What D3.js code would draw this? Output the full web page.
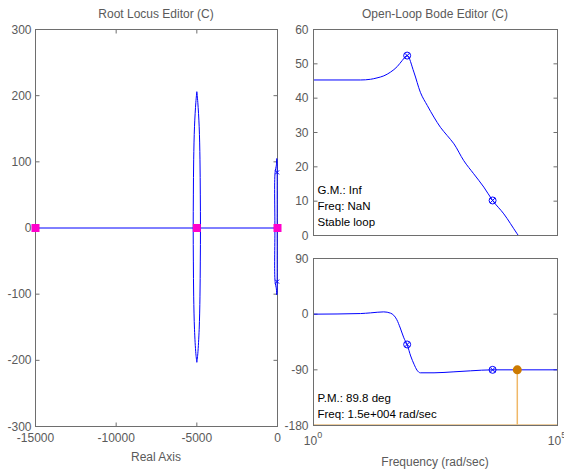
<!DOCTYPE html>
<html lang="en"><head>
<meta charset="utf-8">
<title>SISO Design</title>
<script src="https://cdnjs.cloudflare.com/ajax/libs/d3/7.8.5/d3.min.js"></script>
<style>
  body{margin:0;background:#fff;}
  svg{display:block;font-family:"Liberation Sans",Arial,sans-serif;}
  .frame{fill:none;stroke:#6e6e6e;stroke-width:1;}
  .tick{stroke:#6e6e6e;stroke-width:1;}
  .ticklabel{fill:#5a5a5a;font-size:12px;}
  .title{fill:#5a5a5a;font-size:12px;}
  .note{fill:#000;font-size:11.5px;}
  .curve{fill:none;stroke:#0000ff;stroke-width:1;}
</style>
</head>
<body>
<svg id="chart" width="564" height="473"></svg>
<script>
// ---- root locus data ----
var rlXTicks = [-15000, -10000, -5000, 0]
var rlYTicks = [-300, -200, -100, 0, 100, 200, 300]
// closed-loop poles (magenta squares) on the real axis
var clPoles = [[-15000, 0], [-5000, 0], [0, 0]]
// open-loop poles near the origin (blue x)
var olPoles = [[-25, 84], [-25, -81]]
// branches [re, im]
var brReal = [[-15000, 0], [0, 0]]
var brLoopL = [[-5000, 206], [-5060, 190], [-5145, 153], [-5195, 103], [-5215, 50], [-5225, 0],
               [-5215, -50], [-5195, -103], [-5145, -153], [-5060, -190], [-5000, -203]]
var brLoopR = [[-5000, 206], [-4940, 190], [-4855, 153], [-4805, 103], [-4785, 50], [-4775, 0],
               [-4785, -50], [-4805, -103], [-4855, -153], [-4940, -190], [-5000, -203]]
var brZeroA = [[-20, 0], [-20, 84], [-25, 100], [-45, 105], [-70, 95], [-150, 84], [-160, 0],
               [-150, -81], [-70, -92], [-45, -101], [-25, -97], [-20, -81], [-20, 0]]

// ---- bode data ----
var magTicks = [0, 10, 20, 30, 40, 50, 60]
var phaseTicks = [-180, -90, 0, 90]
var magFreq = [1, 9.2, 14.7, 20, 27.6, 38, 52, 66, 83, 114, 155, 214, 293, 400, 550, 755, 1200, 1910, 3090, 4680, 7940, 14900, 31600]
var magDb   = [45.3, 45.3, 45.5, 45.9, 46.5, 47.6, 49.2, 51, 52.4, 47.6, 41.7, 37.9, 34.5, 31.5, 29.1, 26.7, 21.8, 18, 14.1, 10.2, 6.3, 0.5, -6]
var phFreq = [1, 9.2, 14.8, 27.5, 38, 51, 60, 71, 83.5, 98, 115, 132, 155, 295, 755, 1660, 4680, 100000]
var phDeg  = [0, 1, 2.1, 3.7, 1.6, -9, -22.4, -38.3, -50, -67.6, -81, -90.5, -94.8, -94.8, -93.2, -91.6, -90, -90]
// compensator markers (circled x)
var compFreq = [83, 4680]
var compMag = [52.4, 10.2]
var compPhase = [-49, -90]
// crossover
var pmFreq = 15000
var pmPhase = -90
var gmText = ["G.M.: Inf", "Freq: NaN", "Stable loop"]
var pmText = ["P.M.: 89.8 deg", "Freq: 1.5e+004 rad/sec"]

var svg = d3.select("#chart")

function frame(g, w, h) {
  g.append("rect").attr("class", "frame").attr("x", 0).attr("y", 0).attr("width", w).attr("height", h)
}

// ================= Root locus =================
var rl = {x: 35, y: 29, w: 242, h: 397}
var rx = d3.scaleLinear().domain([-15000, 0]).range([0, rl.w])
var ry = d3.scaleLinear().domain([-300, 300]).range([rl.h, 0])
var g1 = svg.append("g").attr("transform", "translate(" + (rl.x + 0.5) + "," + (rl.y + 0.5) + ")")

svg.append("text").attr("class", "title").attr("x", rl.x + rl.w / 2).attr("y", 18)
  .attr("text-anchor", "middle").text("Root Locus Editor (C)")
svg.append("text").attr("class", "title").attr("x", rl.x + rl.w / 2).attr("y", 461)
  .attr("text-anchor", "middle").text("Real Axis")

rlXTicks.forEach(function(t) {
  g1.append("line").attr("class", "tick").attr("x1", rx(t)).attr("x2", rx(t)).attr("y1", rl.h).attr("y2", rl.h - 4)
  g1.append("line").attr("class", "tick").attr("x1", rx(t)).attr("x2", rx(t)).attr("y1", 0).attr("y2", 4)
  g1.append("text").attr("class", "ticklabel").attr("x", rx(t)).attr("y", rl.h + 15)
    .attr("text-anchor", "middle").text(t)
})
rlYTicks.forEach(function(t) {
  g1.append("line").attr("class", "tick").attr("x1", 0).attr("x2", 4).attr("y1", ry(t)).attr("y2", ry(t))
  g1.append("line").attr("class", "tick").attr("x1", rl.w).attr("x2", rl.w - 4).attr("y1", ry(t)).attr("y2", ry(t))
  g1.append("text").attr("class", "ticklabel").attr("x", -4).attr("y", ry(t) + 4)
    .attr("text-anchor", "end").text(t)
})
frame(g1, rl.w, rl.h)

var rline = d3.line().x(function(d) { return rx(d[0]) }).y(function(d) { return ry(d[1]) }).curve(d3.curveCatmullRom)
;[brReal, brLoopL, brLoopR, brZeroA].forEach(function(b) {
  g1.append("path").attr("class", "curve").attr("d", rline(b))
})
olPoles.forEach(function(p) {
  var cx = rx(p[0]), cy = ry(p[1])
  g1.append("path").attr("stroke", "#0000ff").attr("stroke-width", 1)
    .attr("d", "M" + (cx - 2) + "," + (cy - 2) + "L" + (cx + 2) + "," + (cy + 2) + "M" + (cx - 2) + "," + (cy + 2) + "L" + (cx + 2) + "," + (cy - 2))
})
g1.selectAll(".clpole").data(clPoles).enter().append("rect")
  .attr("x", function(d) { return rx(d[0]) - 4 }).attr("y", function(d) { return ry(d[1]) - 4 })
  .attr("width", 8).attr("height", 8).attr("fill", "#ff00cc")

// ================= Bode =================
var bx = d3.scaleLog().domain([1, 1e5]).range([0, 244])
var mg = {x: 313, y: 29, w: 244, h: 206}
var ph = {x: 313, y: 258, w: 244, h: 167}
var my = d3.scaleLinear().domain([0, 60]).range([mg.h, 0])
var py = d3.scaleLinear().domain([-180, 90]).range([ph.h, 0])

svg.append("text").attr("class", "title").attr("x", mg.x + mg.w / 2).attr("y", 18)
  .attr("text-anchor", "middle").text("Open-Loop Bode Editor (C)")
svg.append("text").attr("class", "title").attr("x", ph.x + ph.w / 2).attr("y", 466)
  .attr("text-anchor", "middle").text("Frequency (rad/sec)")

var defs = svg.append("defs")
defs.append("clipPath").attr("id", "clipMag").append("rect").attr("width", mg.w).attr("height", mg.h)
defs.append("clipPath").attr("id", "clipPh").append("rect").attr("width", ph.w).attr("height", ph.h)

function circX(g, cx, cy) {
  g.append("circle").attr("cx", cx).attr("cy", cy).attr("r", 3.5).attr("fill", "none").attr("stroke", "#0000ff")
  g.append("path").attr("stroke", "#0000ff")
    .attr("d", "M" + (cx - 2.5) + "," + (cy - 2.5) + "L" + (cx + 2.5) + "," + (cy + 2.5) + "M" + (cx - 2.5) + "," + (cy + 2.5) + "L" + (cx + 2.5) + "," + (cy - 2.5))
}

// magnitude
var g2 = svg.append("g").attr("transform", "translate(" + (mg.x + 0.5) + "," + (mg.y + 0.5) + ")")
magTicks.forEach(function(t) {
  g2.append("line").attr("class", "tick").attr("x1", 0).attr("x2", 4).attr("y1", my(t)).attr("y2", my(t))
  g2.append("line").attr("class", "tick").attr("x1", mg.w).attr("x2", mg.w - 4).attr("y1", my(t)).attr("y2", my(t))
  g2.append("text").attr("class", "ticklabel").attr("x", -5).attr("y", my(t) + 4)
    .attr("text-anchor", "end").text(t)
})
var magPts = magFreq.map(function(f, i) { return [f, magDb[i]] })
g2.append("path").attr("class", "curve").attr("clip-path", "url(#clipMag)")
  .attr("d", d3.line().x(function(d) { return bx(d[0]) }).y(function(d) { return my(d[1]) }).curve(d3.curveMonotoneX)(magPts))
compFreq.forEach(function(f, i) { circX(g2, bx(f), my(compMag[i])) })
gmText.forEach(function(s, i) {
  g2.append("text").attr("class", "note").attr("x", 4).attr("y", 164 + i * 16).text(s)
})
frame(g2, mg.w, mg.h)

// phase
var g3 = svg.append("g").attr("transform", "translate(" + (ph.x + 0.5) + "," + (ph.y + 0.5) + ")")
phaseTicks.forEach(function(t) {
  g3.append("line").attr("class", "tick").attr("x1", 0).attr("x2", 4).attr("y1", py(t)).attr("y2", py(t))
  g3.append("line").attr("class", "tick").attr("x1", ph.w).attr("x2", ph.w - 4).attr("y1", py(t)).attr("y2", py(t))
  g3.append("text").attr("class", "ticklabel").attr("x", -5).attr("y", py(t) + 4)
    .attr("text-anchor", "end").text(t)
})
var phPts = phFreq.map(function(f, i) { return [f, phDeg[i]] })
g3.append("path").attr("class", "curve").attr("clip-path", "url(#clipPh)")
  .attr("d", d3.line().x(function(d) { return bx(d[0]) }).y(function(d) { return py(d[1]) }).curve(d3.curveMonotoneX)(phPts))
// -180 line and crossover stem
g3.append("line").attr("x1", 0).attr("x2", ph.w).attr("y1", py(-180) - 1).attr("y2", py(-180) - 1)
  .attr("stroke", "#d89a40").attr("stroke-width", 1).attr("stroke-dasharray", "1,1")
g3.append("line").attr("x1", bx(pmFreq)).attr("x2", bx(pmFreq)).attr("y1", py(pmPhase)).attr("y2", py(-180) - 1)
  .attr("stroke", "#f0b868").attr("stroke-width", 1.5)
g3.append("circle").attr("cx", bx(pmFreq)).attr("cy", py(pmPhase)).attr("r", 4.5).attr("fill", "#cc7a00")
compFreq.forEach(function(f, i) { circX(g3, bx(f), py(compPhase[i])) })
pmText.forEach(function(s, i) {
  g3.append("text").attr("class", "note").attr("x", 4).attr("y", 143 + i * 16).text(s)
})
frame(g3, ph.w, ph.h)

// decade labels 10^0 and 10^5
;[1, 1e5].forEach(function(f) {
  var t = svg.append("text").attr("class", "ticklabel").attr("x", ph.x + bx(f)).attr("y", ph.y + ph.h + 20)
    .attr("text-anchor", "middle")
  t.append("tspan").text("10")
  t.append("tspan").attr("dy", -7).attr("font-size", "9px").text(Math.round(Math.log10(f)))
})
</script>
</body></html>
